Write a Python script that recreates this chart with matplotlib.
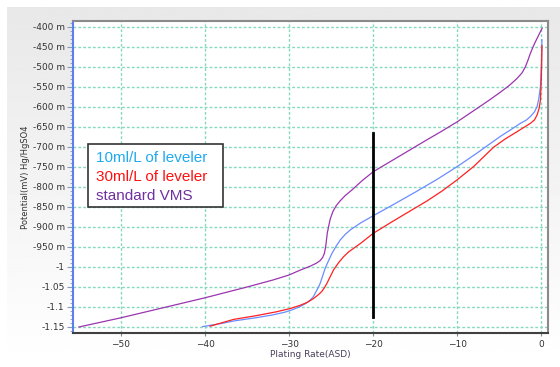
import matplotlib
matplotlib.use("Agg")
import matplotlib.pyplot as plt
import numpy as np
from matplotlib.ticker import FuncFormatter, MultipleLocator

# rate in ASD, potential in mV
vms_x = [-55, -50, -45, -40, -35, -32, -30, -28.7, -27.6, -26.8, -26.3, -26.0, -25.8,
         -25.65, -25.55, -25.45, -25.3, -25.1, -24.8, -24.4, -23.9, -23.3, -22.5,
         -21.3, -20, -18.8, -17.6, -15.6, -13.6, -11.8, -10, -8.8, -7.6, -6.2, -4.8,
         -3.8, -2.9, -2.3, -1.9, -1.6, -1.3, -1.0, -0.7, -0.3, 0.1]
vms_y = [-1150, -1127, -1102, -1077, -1050, -1033, -1020, -1008, -999, -991, -984, -976, -966,
         -950, -932, -915, -899, -880, -862, -847, -834, -821, -807,
         -784, -762, -747, -732, -707, -682, -660, -637, -620, -603, -583, -562,
         -546, -529, -515, -500, -484, -466, -451, -437, -420, -403]

lev10_x = [-40.3, -38, -36.6, -34, -32, -30.5, -29.5, -28.7, -28, -27.5, -27.1, -26.8,
           -26.5, -26.3, -26.0, -25.7, -25.3, -24.9, -24.4, -23.9, -23.3, -22.7, -21.5,
           -20, -17.6, -15, -12.4, -10, -7.7, -4.9, -3.5, -2.5, -1.8, -1.3, -0.8, -0.5,
           -0.3, -0.1, 0.0, 0.05, 0.08]
lev10_y = [-1149, -1141, -1135, -1127, -1120, -1113, -1106, -1099, -1091, -1083, -1074, -1062,
           -1050, -1041, -1022, -1003, -984, -966, -948, -932, -918, -907, -890,
           -872, -844, -813, -781, -749, -716, -674, -655, -641, -633, -624, -612, -599,
           -580, -549, -499, -460, -432]

lev30_x = [-39.4, -36.6, -34, -31.5, -29.9, -28.7, -27.8, -27.1, -26.5, -26.1, -25.8,
           -25.5, -25.1, -24.7, -24.1, -23.5, -22.9, -22.3, -21.5, -20, -17.6, -15.6,
           -13.6, -11.8, -10, -8, -5.7, -4.3, -2.9, -2, -1.3, -0.8, -0.5, -0.25, -0.1,
           0.0, 0.05, 0.08]
lev30_y = [-1148, -1131, -1122, -1112, -1104, -1096, -1088, -1079, -1069, -1061, -1052,
           -1041, -1024, -1007, -989, -974, -962, -953, -941, -916, -885, -860,
           -835, -810, -782, -748, -701, -680, -662, -650, -641, -632, -620, -603, -582,
           -532, -490, -447]

marker_x = -20
marker_y = [-665, -1125]

legend_labels = ["10ml/L of leveler", "30ml/L of leveler", "standard VMS"]
legend_colors = ["#1eaaf0", "#ff1010", "#7030a0"]


def fmt_mv(v, pos):
    if abs(v) >= 1000:
        return "%g" % (v / 1000.0)
    return "%g m" % v


fig = plt.figure(figsize=(5.6, 3.67), dpi=100)

# grey-to-white panel background
bg = fig.add_axes([0, 0, 1, 1], zorder=-10)
grad = np.linspace(0.91, 1.0, 256).reshape(-1, 1)
bg.imshow(grad, cmap="gray", vmin=0, vmax=1, aspect="auto",
          extent=[7 / 560, 1, 0, 1 - 7 / 367])
bg.set_xlim(0, 1)
bg.set_ylim(0, 1)
bg.axis("off")

ax = fig.add_axes([73 / 560, 34 / 367, 475 / 560, 312 / 367])
ax.set_facecolor("white")

# dashed mint grid drawn as plain lines
for gx in [-50, -40, -30, -20, -10, 0]:
    ax.axvline(gx, color="#86d9bb", lw=1.0, ls=(0, (2, 1.5)), zorder=0)
for gy in range(-1150, -399, 50):
    ax.axhline(gy, color="#86d9bb", lw=1.0, ls=(0, (2, 1.5)), zorder=0)

ax.plot(vms_x, vms_y, color="#9b35b0", lw=0.9)
ax.plot(lev10_x, lev10_y, color="#6a8cff", lw=0.9)
ax.plot(lev30_x, lev30_y, color="#ff2020", lw=0.9)
ax.plot([marker_x, marker_x], marker_y, color="black", lw=2)

ax.set_xlim(-55.7, 0.8)
ax.set_ylim(-1165, -385)
ax.xaxis.set_major_locator(MultipleLocator(10))
ax.yaxis.set_major_locator(MultipleLocator(50))
ax.yaxis.set_minor_locator(MultipleLocator(10))
ax.yaxis.set_major_formatter(FuncFormatter(fmt_mv))

for s in ["top", "right"]:
    ax.spines[s].set_color("#8a8a8a")
    ax.spines[s].set_linewidth(1.5)
ax.spines["left"].set_color("#5b80ee")
ax.spines["left"].set_linewidth(1.5)
ax.spines["bottom"].set_color("#404040")
ax.spines["bottom"].set_linewidth(1.5)

ax.tick_params(axis="y", which="major", length=4, color="#8899bb",
               labelsize=6.5, labelcolor="#333333", pad=2)
ax.tick_params(axis="y", which="minor", length=2, color="#8899bb")
ax.tick_params(axis="x", which="major", length=2, color="#888888",
               labelsize=6.5, labelcolor="#333333", pad=3)

ax.set_xlabel("Plating Rate(ASD)", fontsize=6.5, color="#4a3f5a", labelpad=1)
ax.set_ylabel("Potential(mV) Hg/HgSO4", fontsize=6, color="#333333", labelpad=2)

# legend box drawn as text lines in a framed box
box = plt.Rectangle((88 / 560, 1 - 207 / 367), 135 / 560, 63 / 367,
                    transform=fig.transFigure, facecolor="white",
                    edgecolor="#333333", lw=1.2, zorder=5)
fig.patches.append(box)
for i, (lab, col) in enumerate(zip(legend_labels, legend_colors)):
    fig.text(96 / 560, 1 - (158 + i * 19) / 367, lab, color=col,
             fontsize=11, family="Liberation Sans", va="center", zorder=6)

fig.savefig("out.png", dpi=100)
